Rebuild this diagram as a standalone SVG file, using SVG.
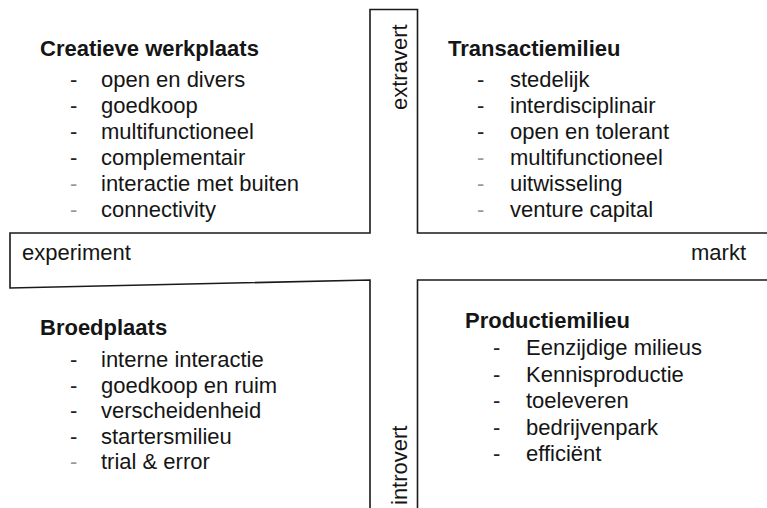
<svg xmlns="http://www.w3.org/2000/svg" width="767" height="508" viewBox="0 0 767 508">
<style>
text{font-family:"Liberation Sans",Arial,sans-serif;font-size:22px;fill:#151515}
.t{font-weight:bold}
.d{fill:#222}
.dl{fill:#9a9a9a}
.ln{fill:none;stroke:#1a1a1a;stroke-width:1.6}
</style>
<rect width="767" height="508" fill="#fff"/>
<g id="connectors">
<polyline class="ln" points="370,508 370,280 10,288 10,233 370,233 370,9.5 417.5,9.5 417.5,233 767,233"/>
<polyline class="ln" points="767,280 417.5,280 417.5,508"/>
</g>
<g id="axis-extravert"><text transform="translate(406.5,110) rotate(-90)">extravert</text></g>
<g id="axis-introvert"><text transform="translate(406.5,505) rotate(-90)">introvert</text></g>
<g id="axis-experiment"><text x="22" y="260">experiment</text></g>
<g id="axis-markt"><text x="691" y="260">markt</text></g>
<g id="creatieve-werkplaats">
<text class="t" x="40" y="56">Creatieve werkplaats</text>
<text class="d" x="70" y="87">-</text><text x="101" y="87">open en divers</text>
<text class="d" x="70" y="113">-</text><text x="101" y="113">goedkoop</text>
<text class="d" x="70" y="139">-</text><text x="101" y="139">multifunctioneel</text>
<text class="d" x="70" y="165">-</text><text x="101" y="165">complementair</text>
<text class="dl" x="70" y="191">-</text><text x="101" y="191">interactie met buiten</text>
<text class="dl" x="70" y="217">-</text><text x="101" y="217">connectivity</text>
</g>
<g id="transactiemilieu">
<text class="t" x="448" y="56">Transactiemilieu</text>
<text class="d" x="477" y="87">-</text><text x="510" y="87">stedelijk</text>
<text class="d" x="477" y="113">-</text><text x="510" y="113">interdisciplinair</text>
<text class="d" x="477" y="139">-</text><text x="510" y="139">open en tolerant</text>
<text class="dl" x="477" y="165">-</text><text x="510" y="165">multifunctioneel</text>
<text class="dl" x="477" y="191">-</text><text x="510" y="191">uitwisseling</text>
<text class="dl" x="477" y="217">-</text><text x="510" y="217">venture capital</text>
</g>
<g id="broedplaats">
<text class="t" x="40" y="335">Broedplaats</text>
<text class="d" x="70" y="367">-</text><text x="101" y="367">interne interactie</text>
<text class="d" x="70" y="392.5">-</text><text x="101" y="392.5">goedkoop en ruim</text>
<text class="d" x="70" y="418">-</text><text x="101" y="418">verscheidenheid</text>
<text class="d" x="70" y="443.5">-</text><text x="101" y="443.5">startersmilieu</text>
<text class="dl" x="70" y="469">-</text><text x="101" y="469">trial &amp; error</text>
</g>
<g id="productiemilieu">
<text class="t" x="465" y="328">Productiemilieu</text>
<text class="d" x="493" y="355">-</text><text x="526" y="355">Eenzijdige milieus</text>
<text class="d" x="493" y="381.5">-</text><text x="526" y="381.5">Kennisproductie</text>
<text class="d" x="493" y="408">-</text><text x="526" y="408">toeleveren</text>
<text class="d" x="493" y="434.5">-</text><text x="526" y="434.5">bedrijvenpark</text>
<text class="d" x="493" y="461">-</text><text x="526" y="461">efficiënt</text>
</g>
</svg>
